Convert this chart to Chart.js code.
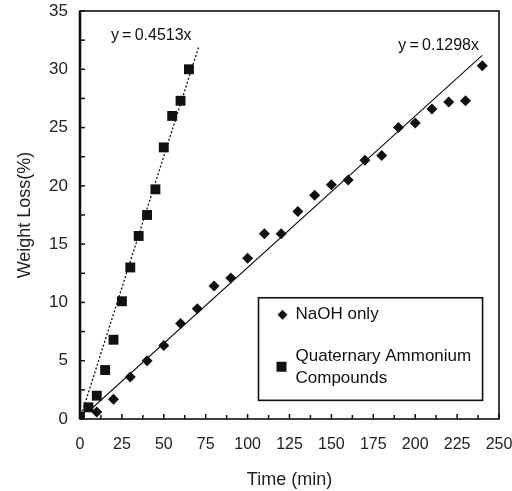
<!DOCTYPE html>
<html>
<head>
<meta charset="utf-8">
<script src="https://cdn.jsdelivr.net/npm/chart.js@4"></script>
<style>
html,body{margin:0;padding:0;background:#fff;}
#wrap{width:512px;height:491px;}
</style>
</head>
<body>
<div id="wrap"><canvas id="c" width="512" height="491"></canvas></div>
<script>
// ---- data ----
const quatTime = [0, 5, 10, 15, 20, 25, 30, 35, 40, 45, 50, 55, 60, 65];
const quatLoss = [0.2, 1.0, 2.0, 4.2, 6.8, 10.1, 13.0, 15.7, 17.5, 19.7, 23.3, 26.0, 27.3, 30.0];

const naohTime = [0, 10, 20, 30, 40, 50, 60, 70, 80, 90, 100, 110, 120, 130, 140, 150, 160, 170, 180, 190, 200, 210, 220, 230, 240];
const naohLoss = [0, 0.6, 1.7, 3.6, 5.0, 6.3, 8.2, 9.45, 11.4, 12.1, 13.8, 15.9, 15.9, 17.8, 19.2, 20.1, 20.5, 22.2, 22.6, 25.0, 25.4, 26.6, 27.2, 27.3, 30.3];

const quatFitTime = [0, 71];
const quatFitLoss = [0, 32.0];
const naohFitTime = [7, 240];
const naohFitLoss = [0.9, 31.2];

const xTicks = [0, 25, 50, 75, 100, 125, 150, 175, 200, 225, 250];
const yTicks = [0, 5, 10, 15, 20, 25, 30, 35];

const seriesNames = ['NaOH only', 'Quaternary Ammonium Compounds'];
const eqLabels = ['y\u2009=\u20090.4513x', 'y\u2009=\u20090.1298x'];

const toPts = (xs, ys) => xs.map((x, i) => ({x: x, y: ys[i]}));

const FONT = '"Liberation Sans", Arial, sans-serif';
const INK = '#111';

const decor = {
  id: 'decor',
  afterDatasetsDraw(chart) {
    const ctx = chart.ctx, ca = chart.chartArea;
    const xs = chart.scales.x, ys = chart.scales.y;
    ctx.save();
    // frame
    ctx.strokeStyle = INK;
    ctx.lineWidth = 1.6;
    ctx.strokeRect(ca.left, ca.top, ca.right - ca.left, ca.bottom - ca.top);
    ctx.lineWidth = 2.6;
    ctx.beginPath();
    ctx.moveTo(ca.left, ca.top); ctx.lineTo(ca.left, ca.bottom);
    ctx.stroke();
    // inward tick marks
    ctx.lineWidth = 1.5;
    for (let v = 0; v <= 250; v += 12.5) {
      const px = xs.getPixelForValue(v);
      const len = (v % 25 === 0) ? 5 : 4;
      ctx.beginPath(); ctx.moveTo(px, ca.bottom); ctx.lineTo(px, ca.bottom - len); ctx.stroke();
    }
    for (let v = 0; v <= 35; v += 2.5) {
      const py = ys.getPixelForValue(v);
      ctx.beginPath(); ctx.moveTo(ca.left, py); ctx.lineTo(ca.left + 5, py); ctx.stroke();
    }
    // equation labels
    ctx.fillStyle = INK;
    ctx.font = '16px ' + FONT;
    ctx.textAlign = 'center';
    ctx.textBaseline = 'middle';
    ctx.fillText(eqLabels[0], xs.getPixelForValue(42.5), ys.getPixelForValue(32.9));
    ctx.fillText(eqLabels[1], xs.getPixelForValue(214), ys.getPixelForValue(32.0));
    // legend box
    const lx0 = xs.getPixelForValue(106.5), lx1 = xs.getPixelForValue(240.2);
    const ly0 = ys.getPixelForValue(10.4), ly1 = ys.getPixelForValue(1.6);
    ctx.lineWidth = 1.6;
    ctx.strokeRect(lx0, ly0, lx1 - lx0, ly1 - ly0);
    // diamond
    const dx = lx0 + 24, dy = ly0 + 17;
    ctx.beginPath();
    ctx.moveTo(dx, dy - 5); ctx.lineTo(dx + 5, dy); ctx.lineTo(dx, dy + 5); ctx.lineTo(dx - 5, dy); ctx.closePath();
    ctx.fill();
    // square
    const sx = lx0 + 23, sy = ly0 + 69;
    ctx.fillRect(sx - 5, sy - 5, 10, 10);
    ctx.font = '17px ' + FONT;
    ctx.textAlign = 'left';
    ctx.fillText(seriesNames[0], lx0 + 37, dy);
    const parts = seriesNames[1].split(' ');
    ctx.fillText(parts[0] + ' ' + parts[1], lx0 + 37, ly0 + 59);
    ctx.fillText(parts[2], lx0 + 37, ly0 + 81);
    ctx.restore();
  }
};

new Chart(document.getElementById('c'), {
  type: 'scatter',
  data: {
    datasets: [
      {
        label: seriesNames[1],
        data: toPts(quatTime, quatLoss),
        pointStyle: 'rect',
        pointRadius: 7,
        backgroundColor: INK,
        borderColor: INK,
        borderWidth: 0,
        showLine: false
      },
      {
        label: seriesNames[0],
        data: toPts(naohTime, naohLoss),
        pointStyle: 'rectRot',
        pointRadius: 5.5,
        backgroundColor: INK,
        borderColor: INK,
        borderWidth: 0,
        showLine: false
      },
      {
        label: 'fit1',
        data: toPts(quatFitTime, quatFitLoss),
        showLine: true,
        pointRadius: 0,
        borderColor: INK,
        borderWidth: 1.3,
        borderDash: [2, 2]
      },
      {
        label: 'fit2',
        data: toPts(naohFitTime, naohFitLoss),
        showLine: true,
        pointRadius: 0,
        borderColor: INK,
        borderWidth: 1.1
      }
    ]
  },
  options: {
    responsive: false,
    animation: false,
    devicePixelRatio: 1,
    layout: { padding: { top: 11, right: 13, left: 0, bottom: 0 } },
    plugins: {
      legend: { display: false },
      tooltip: { enabled: false }
    },
    scales: {
      x: {
        type: 'linear',
        min: 0, max: 250,
        afterBuildTicks: s => { s.ticks = xTicks.map(v => ({value: v})); },
        grid: { display: false, drawTicks: false },
        border: { display: false },
        ticks: { color: '#222', font: { family: FONT, size: 16 }, padding: 16, maxRotation: 0, autoSkip: false },
        title: { display: true, text: 'Time (min)', color: '#222', font: { family: FONT, size: 18 }, padding: { top: 4, bottom: 0 } },
        afterFit: s => { s.height = 72; s.paddingLeft = 0; s.paddingRight = 0; }
      },
      y: {
        type: 'linear',
        min: 0, max: 35,
        afterBuildTicks: s => { s.ticks = yTicks.map(v => ({value: v})); },
        grid: { display: false, drawTicks: false },
        border: { display: false },
        ticks: { color: '#222', font: { family: FONT, size: 17 }, padding: 12 },
        title: { display: true, text: 'Weight Loss(%)', color: '#222', font: { family: FONT, size: 18 }, padding: { top: 14, bottom: 4 } },
        afterFit: s => { s.width = 80; s.paddingTop = 0; s.paddingBottom = 0; }
      }
    }
  },
  plugins: [decor]
});
</script>
</body>
</html>
